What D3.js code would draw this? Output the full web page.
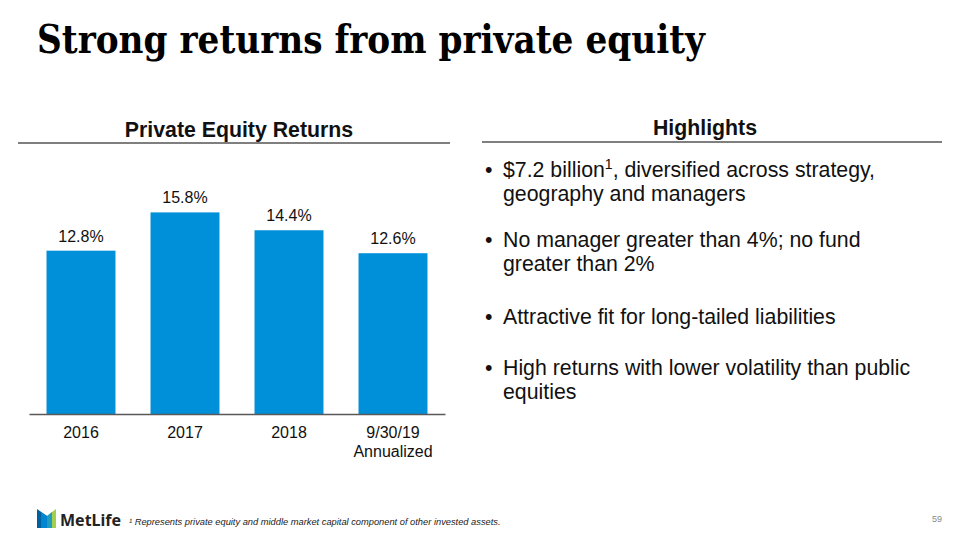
<!DOCTYPE html>
<html><head><meta charset="utf-8">
<script src="https://cdn.jsdelivr.net/npm/d3@7"></script>
<style>body{margin:0;background:#fff;} svg{display:block;}</style>
</head><body>
<svg id="c" width="960" height="540"></svg>
<script>
const categories = ["2016", "2017", "2018", "9/30/19\nAnnualized"];
const values = [12.8, 15.8, 14.4, 12.6];
const valueLabels = ["12.8%", "15.8%", "14.4%", "12.6%"];
const titleText = "Strong returns from private equity";
const chartTitle = "Private Equity Returns";
const highlightsTitle = "Highlights";
const bullets = [
  [["$7.2 billion", "1", ", diversified across strategy,"], ["geography and managers"]],
  [["No manager greater than 4%; no fund"], ["greater than 2%"]],
  [["Attractive fit for long-tailed liabilities"]],
  [["High returns with lower volatility than public"], ["equities"]]
];
const footnote = "¹ Represents private equity and middle market capital component of other invested assets.";
const pageNum = "59";

const svg = d3.select("#c");
const sans = "'Liberation Sans', Arial, sans-serif";

// Title
svg.append("text").attr("x", 37).attr("y", 53)
  .attr("font-family", "'DejaVu Serif', Georgia, serif").attr("font-weight", "bold")
  .attr("font-size", 39).attr("fill", "#000")
  .attr("textLength", 668).attr("lengthAdjust", "spacingAndGlyphs")
  .text(titleText);

// Section headers
svg.append("text").attr("x", 239).attr("y", 137).attr("text-anchor", "middle")
  .attr("font-family", sans).attr("font-weight", "bold").attr("font-size", 21.3).attr("fill", "#111")
  .text(chartTitle);
svg.append("line").attr("x1", 18).attr("x2", 450).attr("y1", 143).attr("y2", 143)
  .attr("stroke", "#555").attr("stroke-width", 1.5);
svg.append("text").attr("x", 705).attr("y", 135).attr("text-anchor", "middle")
  .attr("font-family", sans).attr("font-weight", "bold").attr("font-size", 21.3).attr("fill", "#111")
  .text(highlightsTitle);
svg.append("line").attr("x1", 482).attr("x2", 942).attr("y1", 142).attr("y2", 142)
  .attr("stroke", "#555").attr("stroke-width", 1.5);

// Bar chart
const x = d3.scaleBand().domain(categories).range([29, 445]).paddingInner(0.337).paddingOuter(0.1685);
const y = d3.scaleLinear().domain([0, 10]).range([414, 286.4]);

const g = svg.append("g");
g.selectAll("rect.bar").data(values).join("rect").attr("class", "bar")
  .attr("x", (d, i) => x(categories[i])).attr("width", x.bandwidth())
  .attr("y", d => y(d)).attr("height", d => y(0) - y(d))
  .attr("fill", "#0090da");

g.selectAll("text.val").data(values).join("text").attr("class", "val")
  .attr("x", (d, i) => x(categories[i]) + x.bandwidth() / 2)
  .attr("y", d => y(d) - 9)
  .attr("text-anchor", "middle").attr("font-family", sans).attr("font-size", 16).attr("fill", "#111")
  .text((d, i) => valueLabels[i]);

const axis = d3.axisBottom(x).tickSize(0).tickPadding(0).tickFormat("");
const ag = svg.append("g").attr("transform", `translate(0,${y(0)})`).call(axis);
ag.select(".domain").attr("stroke", "#595959").attr("stroke-width", 1.5);
ag.selectAll(".tick").each(function(d) {
  const lines = d.split("\n");
  const t = d3.select(this).append("text").attr("fill", "#111")
    .attr("font-family", sans).attr("font-size", 16).attr("text-anchor", "middle");
  lines.forEach((l, i) => t.append("tspan").attr("x", 0).attr("y", 24 + i * 19).text(l));
});

// Bullets
const bulletTops = [177, 247, 324, 375];
const lineH = 23.8;
bullets.forEach((b, bi) => {
  svg.append("text").attr("x", 485).attr("y", bulletTops[bi]).attr("font-family", sans)
    .attr("font-size", 21.3).attr("fill", "#111").text("•");
  b.forEach((line, li) => {
    const t = svg.append("text").attr("x", 503).attr("y", bulletTops[bi] + li * lineH)
      .attr("font-family", sans).attr("font-size", 21.3).attr("fill", "#111");
    line.forEach((seg, si) => {
      const isSup = line.length === 3 && si === 1;
      t.append("tspan").attr("font-size", isSup ? 14 : 21.3)
        .attr("dy", isSup ? -8 : (si === 2 ? 8 : 0)).text(seg);
    });
  });
});

// Footer logo
const logo = svg.append("g");
logo.append("polygon").attr("points", "37,509 47,516 47,528 37,528").attr("fill", "#0061a0");
logo.append("polygon").attr("points", "47,516 56,509 56,528 47,528").attr("fill", "#a4ce4e");
logo.append("polygon").attr("points", "41,512 47,516 52,512 52,528 41,528").attr("fill", "#0090da").attr("opacity", 0.8);
svg.append("text").attr("x", 60).attr("y", 526).attr("font-family", "'Noto Sans', sans-serif")
  .attr("font-weight", "bold").attr("font-size", 16).attr("fill", "#222").text("MetLife");
svg.append("text").attr("x", 129).attr("y", 525).attr("font-family", sans).attr("font-style", "italic")
  .attr("font-size", 9.3).attr("fill", "#222").text(footnote);
svg.append("text").attr("x", 937).attr("y", 522).attr("text-anchor", "middle").attr("font-family", sans)
  .attr("font-size", 9).attr("fill", "#888").text(pageNum);
</script>
</body></html>
